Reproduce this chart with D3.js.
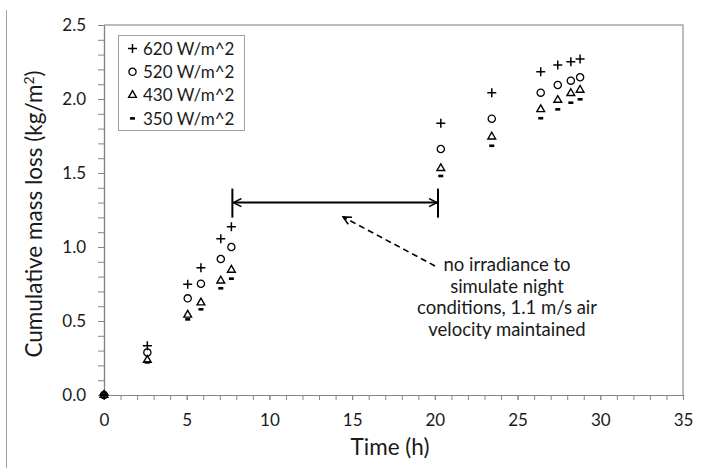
<!DOCTYPE html>
<html>
<head>
<meta charset="utf-8">
<script src="https://cdn.jsdelivr.net/npm/d3@7"></script>
<style>
  html, body { margin: 0; padding: 0; background: #fff; }
  text { font-family: Lato, "Open Sans", sans-serif; fill: #1a1a1a; }
</style>
</head>
<body>
<script>
// ---- data ----
const times   = [0, 2.62, 5.06, 5.86, 7.06, 7.70, 20.36, 23.44, 26.40, 27.43, 28.22, 28.78];
const s620    = [0, 0.333, 0.748, 0.860, 1.056, 1.137, 1.836, 2.043, 2.184, 2.230, 2.252, 2.270];
const s520    = [0, 0.288, 0.653, 0.752, 0.919, 1.000, 1.662, 1.867, 2.043, 2.095, 2.124, 2.147];
const s430    = [0, 0.236, 0.541, 0.624, 0.772, 0.845, 1.532, 1.745, 1.930, 1.993, 2.039, 2.061];
const s350    = [0, 0.220, 0.511, 0.579, 0.721, 0.786, 1.480, 1.684, 1.870, 1.930, 1.975, 1.998];
const seriesNames = ["620 W/m^2", "520 W/m^2", "430 W/m^2", "350 W/m^2"];
const seriesKinds = ["plus", "circle", "triangle", "dash"];
const xTicks = [0, 5, 10, 15, 20, 25, 30, 35];
const yTicks = [0, 0.5, 1.0, 1.5, 2.0, 2.5];
const nightStart = 7.76, nightEnd = 20.19, nightLevel = 1.30;
const noteLines = ["no irradiance to", "simulate night", "conditions, 1.1 m/s air", "velocity maintained"];

const W = 706, H = 468;
const svg = d3.select("body").append("svg").attr("width", W).attr("height", H);

const x = d3.scaleLinear().domain([0, 35]).range([104, 683]);
const y = d3.scaleLinear().domain([0, 2.5]).range([395, 25]);

// outer frame fragment on the left
svg.append("line").attr("x1", 6.5).attr("x2", 6.5).attr("y1", 10).attr("y2", H)
  .attr("stroke", "#a0a0a0").attr("stroke-width", 1);

// plot area border (top & right)
svg.append("path")
  .attr("d", `M${x(0)},${y(2.5)}H${x(35)}V${y(0)}`)
  .attr("fill", "none").attr("stroke", "#a6a6a6").attr("stroke-width", 1.5);

const axisColor = "#868686";
// x axis
const gx = svg.append("g").attr("transform", `translate(0,${y(0)})`);
gx.call(d3.axisBottom(x).tickValues(d3.range(0, 36, 1)).tickFormat("").tickSize(5).tickSizeOuter(0));
const gx2 = svg.append("g").attr("transform", `translate(0,${y(0)})`);
gx2.call(d3.axisBottom(x).tickValues(xTicks).tickFormat(d3.format("d")).tickSize(5).tickSizeOuter(0).tickPadding(14));
[gx, gx2].forEach(g => { g.selectAll("path,line").attr("stroke", axisColor); g.select(".domain").attr("stroke-width", 1.2); });
gx2.selectAll("text").attr("font-size", 17).attr("font-family", "Lato, sans-serif").attr("fill", "#1a1a1a");

// y axis
const gy = svg.append("g").attr("transform", `translate(${x(0)},0)`);
gy.call(d3.axisLeft(y).tickValues(d3.range(0, 26, 1).map(d => d / 10)).tickFormat("").tickSize(6).tickSizeOuter(0));
const gy2 = svg.append("g").attr("transform", `translate(${x(0)},0)`);
gy2.call(d3.axisLeft(y).tickValues(yTicks).tickFormat(d3.format(".1f")).tickSize(6).tickSizeOuter(0).tickPadding(12));
[gy, gy2].forEach(g => { g.selectAll("path,line").attr("stroke", axisColor); g.select(".domain").attr("stroke-width", 1.2); });
gy2.selectAll("text").attr("font-size", 17).attr("font-family", "Lato, sans-serif").attr("fill", "#1a1a1a");

// axis titles
svg.append("text").attr("x", 390).attr("y", 455).attr("text-anchor", "middle")
  .attr("font-size", 22.5).text("Time (h)");
const yt = svg.append("text").attr("transform", `translate(42,214) rotate(-90)`)
  .attr("text-anchor", "middle").attr("font-size", 22.5);
yt.append("tspan").text("Cumulative mass loss (kg/m");
yt.append("tspan").attr("font-size", 14).attr("baseline-shift", "super").text("2");
yt.append("tspan").text(")");

// marker drawing
function drawMarker(g, kind) {
  if (kind === "plus") {
    g.append("path").attr("d", "M-4.5,0H4.5M0,-4.5V4.5").attr("stroke", "#000").attr("stroke-width", 1.5).attr("fill", "none");
  } else if (kind === "circle") {
    g.append("circle").attr("r", 3.6).attr("stroke", "#000").attr("stroke-width", 1.3).attr("fill", "none");
  } else if (kind === "triangle") {
    g.append("path").attr("d", d3.symbol(d3.symbolTriangle, 26)()).attr("stroke", "#000").attr("stroke-width", 1.4).attr("fill", "none");
  } else {
    g.append("rect").attr("x", -2.5).attr("y", -1.3).attr("width", 5).attr("height", 2.6).attr("fill", "#000");
  }
}

const allSeries = [s620, s520, s430, s350];
allSeries.forEach((vals, i) => {
  const g = svg.append("g");
  vals.forEach((v, j) => {
    const m = g.append("g").attr("transform", `translate(${x(times[j])},${y(v)})`);
    drawMarker(m, seriesKinds[i]);
  });
});

// legend
svg.append("rect").attr("x", 118.5).attr("y", 35.5).attr("width", 126).attr("height", 95)
  .attr("fill", "#fff").attr("stroke", "#a0a0a0").attr("stroke-width", 1);
seriesNames.forEach((name, i) => {
  const cy = 48.5 + i * 23.3;
  const m = svg.append("g").attr("transform", `translate(132.5,${cy})`);
  drawMarker(m, seriesKinds[i]);
  svg.append("text").attr("x", 143).attr("y", cy).attr("dy", "0.36em").attr("font-size", 17).text(name);
});

// annotation arrows
const defs = svg.append("defs");
defs.append("marker").attr("id", "openArrow").attr("viewBox", "0 0 10 10").attr("refX", 9).attr("refY", 5)
  .attr("markerWidth", 10).attr("markerHeight", 10).attr("markerUnits", "userSpaceOnUse").attr("orient", "auto-start-reverse")
  .append("path").attr("d", "M1,1L9,5L1,9").attr("fill", "none").attr("stroke", "#000").attr("stroke-width", 1.6);

const yl = y(nightLevel);
svg.append("line").attr("x1", x(nightStart) + 1).attr("x2", x(nightEnd) - 1).attr("y1", yl).attr("y2", yl)
  .attr("stroke", "#000").attr("stroke-width", 2)
  .attr("marker-start", "url(#openArrow)").attr("marker-end", "url(#openArrow)");
[nightStart, nightEnd].forEach(t => {
  svg.append("line").attr("x1", x(t)).attr("x2", x(t)).attr("y1", yl - 14).attr("y2", yl + 15)
    .attr("stroke", "#000").attr("stroke-width", 2);
});

// dashed pointer
svg.append("line").attr("x1", x(20.01)).attr("y1", y(0.872)).attr("x2", x(14.45)).attr("y2", y(1.203))
  .attr("stroke", "#000").attr("stroke-width", 1.6).attr("stroke-dasharray", "6,4")
  .attr("marker-end", "url(#openArrow)");

// note text
const note = svg.append("text").attr("text-anchor", "middle").attr("font-size", 18.5);
noteLines.forEach((l, i) => {
  note.append("tspan").attr("x", 507).attr("y", 271 + i * 21.7).text(l);
});
</script>
</body>
</html>
